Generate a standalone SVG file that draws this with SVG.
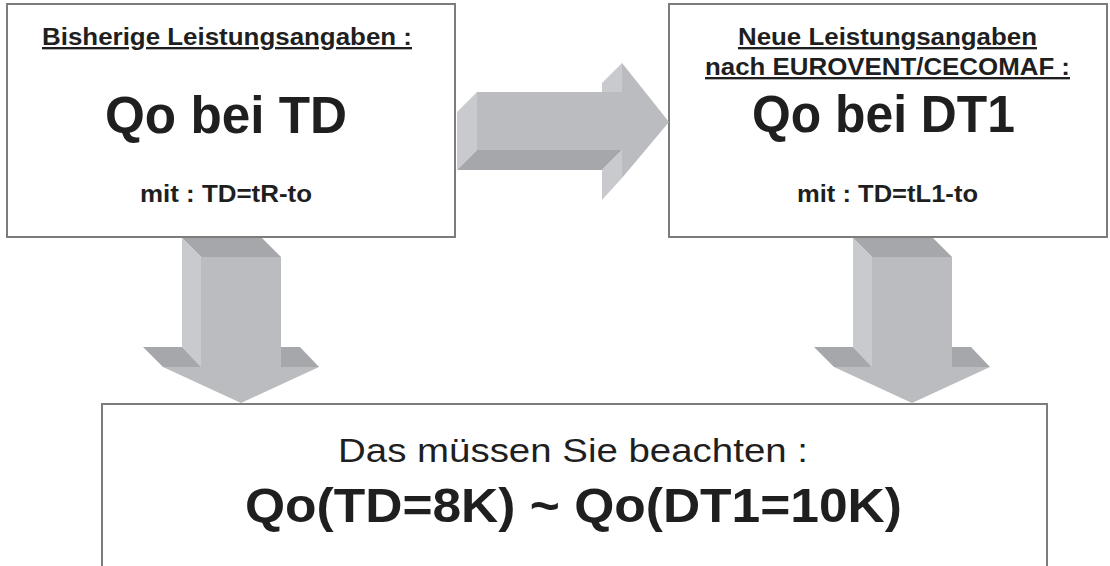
<svg xmlns="http://www.w3.org/2000/svg" width="1110" height="566" viewBox="0 0 1110 566">
<style>
.box{fill:#ffffff;stroke:#7c7c7c;stroke-width:2}
.t{font-family:"Liberation Sans",Arial,sans-serif;fill:#1f1f1f;text-anchor:middle}
.b{font-weight:bold}
.u{text-decoration:underline}
.front{fill:#bbbcc0}
.light{fill:#c9cacd}
.dark{fill:#a6a7ab}
</style>
<rect width="1110" height="566" fill="#ffffff"/>
<g id="node-bisherige">
<rect class="box" x="7" y="4" width="448" height="233"/>
<text class="t b u" x="227" y="45" font-size="23.5" textLength="370" lengthAdjust="spacingAndGlyphs">Bisherige Leistungsangaben :</text>
<text class="t b" x="226" y="133" font-size="51" textLength="242" lengthAdjust="spacingAndGlyphs">Qo bei TD</text>
<text class="t b" x="226" y="202" font-size="24" textLength="172" lengthAdjust="spacingAndGlyphs">mit : TD=tR-to</text>
</g>
<g id="node-neue">
<rect class="box" x="669" y="4" width="438" height="233"/>
<text class="t b u" x="887.5" y="45" font-size="23.5" textLength="299" lengthAdjust="spacingAndGlyphs">Neue Leistungsangaben</text>
<text class="t b u" x="887.5" y="75" font-size="23.5" textLength="365" lengthAdjust="spacingAndGlyphs">nach EUROVENT/CECOMAF :</text>
<text class="t b" x="883.5" y="132" font-size="51" textLength="263" lengthAdjust="spacingAndGlyphs">Qo bei DT1</text>
<text class="t b" x="887.5" y="202" font-size="24" textLength="181" lengthAdjust="spacingAndGlyphs">mit : TD=tL1-to</text>
</g>
<g id="node-beachten">
<rect class="box" x="102" y="404" width="945" height="170"/>
<text class="t" x="573" y="462" font-size="34" textLength="470" lengthAdjust="spacingAndGlyphs">Das müssen Sie beachten :</text>
<text class="t b" x="573.5" y="522" font-size="49" textLength="657" lengthAdjust="spacingAndGlyphs">Qo(TD=8K) ~ Qo(DT1=10K)</text>
</g>
<g id="connectors">
<g id="arrow-right">
<polygon class="light" points="457,112 477,92 477,150 457,170"/>
<polygon class="light" points="602,92 602,83 622,63 622,92"/>
<polygon class="dark" points="457,170 477,150 622,150 602,170"/>
<polygon class="light" points="602,170 622,150 622,178 602,200"/>
<polygon class="front" points="477,92 622,92 622,63 669,122 622,178 622,150 477,150"/>
</g>
<g id="arrow-down-left">
<polygon class="dark" points="182,238 262,238 281,257 201,257"/>
<polygon class="light" points="182,238 201,257 201,367 182,347"/>
<polygon class="dark" points="143,347 182,347 201,367 163,367"/>
<polygon class="dark" points="281,347 300,347 319,367 281,367"/>
<polygon class="front" points="201,257 281,257 281,367 319,367 241,403 163,367 201,367"/>
</g>
<g id="arrow-down-right">
<polygon class="dark" points="853,238 933,238 952,257 872,257"/>
<polygon class="light" points="853,238 872,257 872,367 853,347"/>
<polygon class="dark" points="814,347 853,347 872,367 834,367"/>
<polygon class="dark" points="952,347 971,347 990,367 952,367"/>
<polygon class="front" points="872,257 952,257 952,367 990,367 912,403 834,367 872,367"/>
</g>
</g>
</svg>
